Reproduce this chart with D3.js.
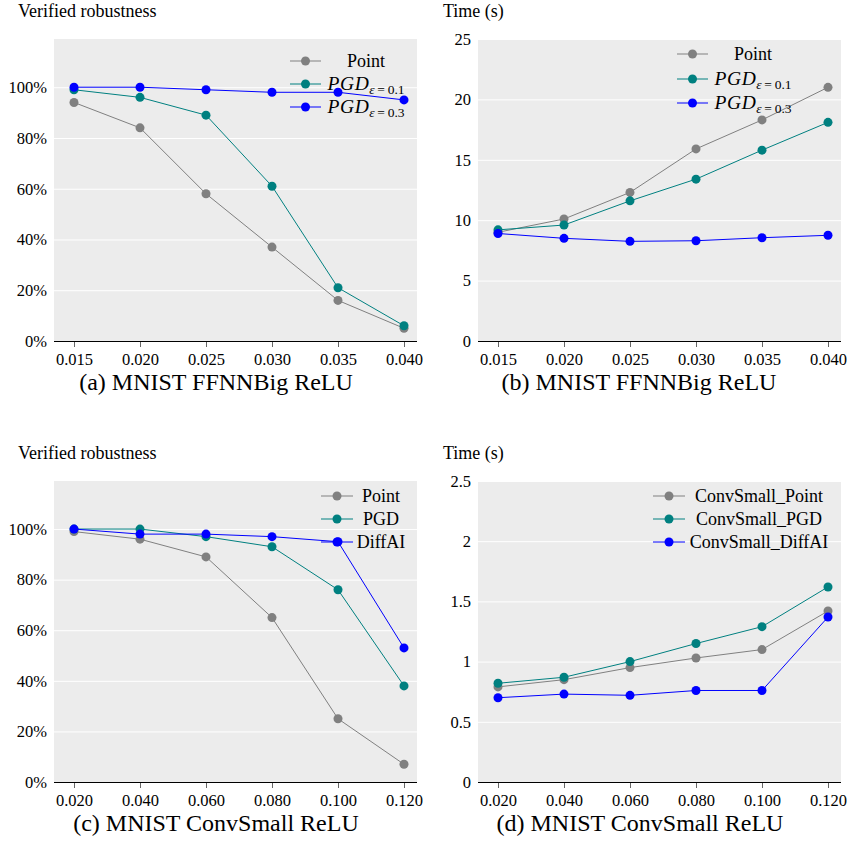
<!DOCTYPE html>
<html><head><meta charset="utf-8">
<script src="https://cdn.jsdelivr.net/npm/d3@7"></script>
<style>
body{margin:0;background:#fff}
text{font-family:"Liberation Serif","Times New Roman",serif;fill:#000}
</style>
</head><body><svg id="chart" width="849" height="852"></svg>
<script>
// ---------- data ----------
const epsFFNN = [0.015, 0.020, 0.025, 0.030, 0.035, 0.040];
const epsConv = [0.020, 0.040, 0.060, 0.080, 0.100, 0.120];

const robFFNN_point = [0.94, 0.84, 0.58, 0.37, 0.16, 0.05];
const robFFNN_pgd01 = [0.99, 0.96, 0.89, 0.61, 0.21, 0.06];
const robFFNN_pgd03 = [1.00, 1.00, 0.99, 0.98, 0.98, 0.95];

const timeFFNN_point = [9.0, 10.1, 12.3, 15.9, 18.3, 21.0];
const timeFFNN_pgd01 = [9.2, 9.6, 11.6, 13.4, 15.8, 18.1];
const timeFFNN_pgd03 = [8.9, 8.5, 8.25, 8.3, 8.55, 8.75];

const robConv_point  = [0.99, 0.96, 0.89, 0.65, 0.25, 0.07];
const robConv_pgd    = [1.00, 1.00, 0.97, 0.93, 0.76, 0.38];
const robConv_diffai = [1.00, 0.98, 0.98, 0.97, 0.95, 0.53];

const timeConv_point  = [0.79, 0.85, 0.95, 1.03, 1.10, 1.42];
const timeConv_pgd    = [0.82, 0.87, 1.00, 1.15, 1.29, 1.62];
const timeConv_diffai = [0.70, 0.73, 0.72, 0.76, 0.76, 1.37];

const robTicks      = [0, 0.2, 0.4, 0.6, 0.8, 1.0];
const timeFFNNTicks = [0, 5, 10, 15, 20, 25];
const timeConvTicks = [0, 0.5, 1, 1.5, 2, 2.5];

const legendFFNN = [{main:"Point"}, {main:"PGD", eps:"ε", rest:"\u2009=\u20090.1", math:true}, {main:"PGD", eps:"ε", rest:"\u2009=\u20090.3", math:true}];
const legendConvRob  = [{main:"Point"}, {main:"PGD"}, {main:"DiffAI"}];
const legendConvTime = [{main:"ConvSmall_Point"}, {main:"ConvSmall_PGD"}, {main:"ConvSmall_DiffAI"}];

const yTitles = ["Verified robustness", "Time (s)"];
const subTitles = ["(a) MNIST FFNNBig ReLU", "(b) MNIST FFNNBig ReLU", "(c) MNIST ConvSmall ReLU", "(d) MNIST ConvSmall ReLU"];
const seriesColors = ["#808080", "#008080", "#0000ff"];

// ---------- layout ----------
const panels = [
  {x: epsFFNN, series:[robFFNN_point, robFFNN_pgd01, robFFNN_pgd03], ticks: robTicks, yTop:1.19, fmt:d3.format(".0%"),
   legend: legendFFNN, yTitle: yTitles[0], sub: subTitles[0],
   left:54, right:417, top:39, bottom:341, subX:216, leg:{x0:290, x1:321, tx:366, rows:[61,84,107]}},
  {x: epsFFNN, series:[timeFFNN_point, timeFFNN_pgd01, timeFFNN_pgd03], ticks: timeFFNNTicks, yTop:25, fmt:d => String(d),
   legend: legendFFNN, yTitle: yTitles[1], sub: subTitles[1],
   left:478, right:841, top:39, bottom:341, subX:639, leg:{x0:677, x1:708, tx:753, rows:[54,79,103]}},
  {x: epsConv, series:[robConv_point, robConv_pgd, robConv_diffai], ticks: robTicks, yTop:1.19, fmt:d3.format(".0%"),
   legend: legendConvRob, yTitle: yTitles[0], sub: subTitles[2],
   left:54, right:417, top:481, bottom:782, subX:216, leg:{x0:321, x1:353, tx:381, rows:[496,519,542]}},
  {x: epsConv, series:[timeConv_point, timeConv_pgd, timeConv_diffai], ticks: timeConvTicks, yTop:2.5, fmt:d => String(d),
   legend: legendConvTime, yTitle: yTitles[1], sub: subTitles[3],
   left:478, right:841, top:481, bottom:782, subX:640, leg:{x0:653, x1:685, tx:759, rows:[496,519,542]}}
];

const svg = d3.select("#chart");
const tickFont = 16.5;

panels.forEach(p => {
  const g = svg.append("g");
  const x = d3.scaleLinear().domain([p.x[0], p.x[p.x.length-1]]).range([p.left + 20, p.right - 13]);
  const y = d3.scaleLinear().domain([0, p.yTop]).range([p.bottom, p.top]);

  // background
  g.append("rect").attr("x", p.left).attr("y", p.top)
    .attr("width", p.right - p.left).attr("height", p.bottom - p.top).attr("fill", "#ececec");

  // gridlines
  const grid = g.append("g").attr("transform", `translate(${p.left},0)`)
    .call(d3.axisLeft(y).tickValues(p.ticks).tickSize(-(p.right - p.left)).tickFormat(""));
  grid.select(".domain").remove();
  grid.selectAll("line").attr("stroke", "#ffffff").attr("stroke-width", 1);

  // y labels
  const ya = g.append("g").attr("transform", `translate(${p.left},0)`)
    .call(d3.axisLeft(y).tickValues(p.ticks).tickSize(0).tickPadding(7).tickFormat(p.fmt));
  ya.select(".domain").remove();
  ya.selectAll("text").style("font-family", '"Liberation Serif",serif').style("font-size", tickFont + "px").attr("fill", "#000");

  // x axis
  const xa = g.append("g").attr("transform", `translate(0,${p.bottom})`)
    .call(d3.axisBottom(x).tickValues(p.x).tickSize(6).tickPadding(6.3).tickFormat(d3.format(".3f")));
  xa.select(".domain").remove();
  xa.selectAll("line").attr("stroke", "#666");
  xa.selectAll("text").style("font-family", '"Liberation Serif",serif').style("font-size", tickFont + "px").attr("fill", "#000");
  g.append("line").attr("x1", p.left).attr("x2", p.right).attr("y1", p.bottom + 0.5).attr("y2", p.bottom + 0.5)
    .attr("stroke", "#000").attr("stroke-width", 1);

  // series
  const line = d3.line().x((d, i) => x(p.x[i])).y(d => y(d));
  p.series.forEach((s, si) => {
    g.append("path").datum(s).attr("d", line).attr("fill", "none")
      .attr("stroke", seriesColors[si]).attr("stroke-width", 1);
    g.selectAll(null).data(s).enter().append("circle")
      .attr("cx", (d, i) => x(p.x[i])).attr("cy", d => y(d)).attr("r", 4.5)
      .attr("fill", seriesColors[si]);
  });

  // legend
  p.legend.forEach((L, li) => {
    const ry = p.leg.rows[li];
    g.append("line").attr("x1", p.leg.x0).attr("x2", p.leg.x1).attr("y1", ry).attr("y2", ry)
      .attr("stroke", seriesColors[li]).attr("stroke-width", 1);
    g.append("circle").attr("cx", (p.leg.x0 + p.leg.x1) / 2).attr("cy", ry).attr("r", 4.5).attr("fill", seriesColors[li]);
    const t = g.append("text").attr("x", p.leg.tx).attr("y", ry + 6).attr("text-anchor", "middle")
      .style("font-size", "18px");
    if (L.math) {
      t.append("tspan").text(L.main).style("font-style", "italic").style("font-size", "19.5px").style("letter-spacing", "0.6px");
      t.append("tspan").text(L.eps).attr("dy", 4).style("font-size", "13.5px").style("font-style", "italic");
      t.append("tspan").text(L.rest).style("font-size", "13.5px");
    } else {
      t.text(L.main);
    }
  });

  // y title
  g.append("text").attr("x", p.left - (p.left < 100 ? 36 : 35)).attr("y", p.top - 22)
    .style("font-size", "18px").text(p.yTitle);

  // subtitle
  g.append("text").attr("x", p.subX).attr("y", p.bottom + 49).attr("text-anchor", "middle")
    .style("font-size", "24px").text(p.sub);
});
</script>
</body></html>
